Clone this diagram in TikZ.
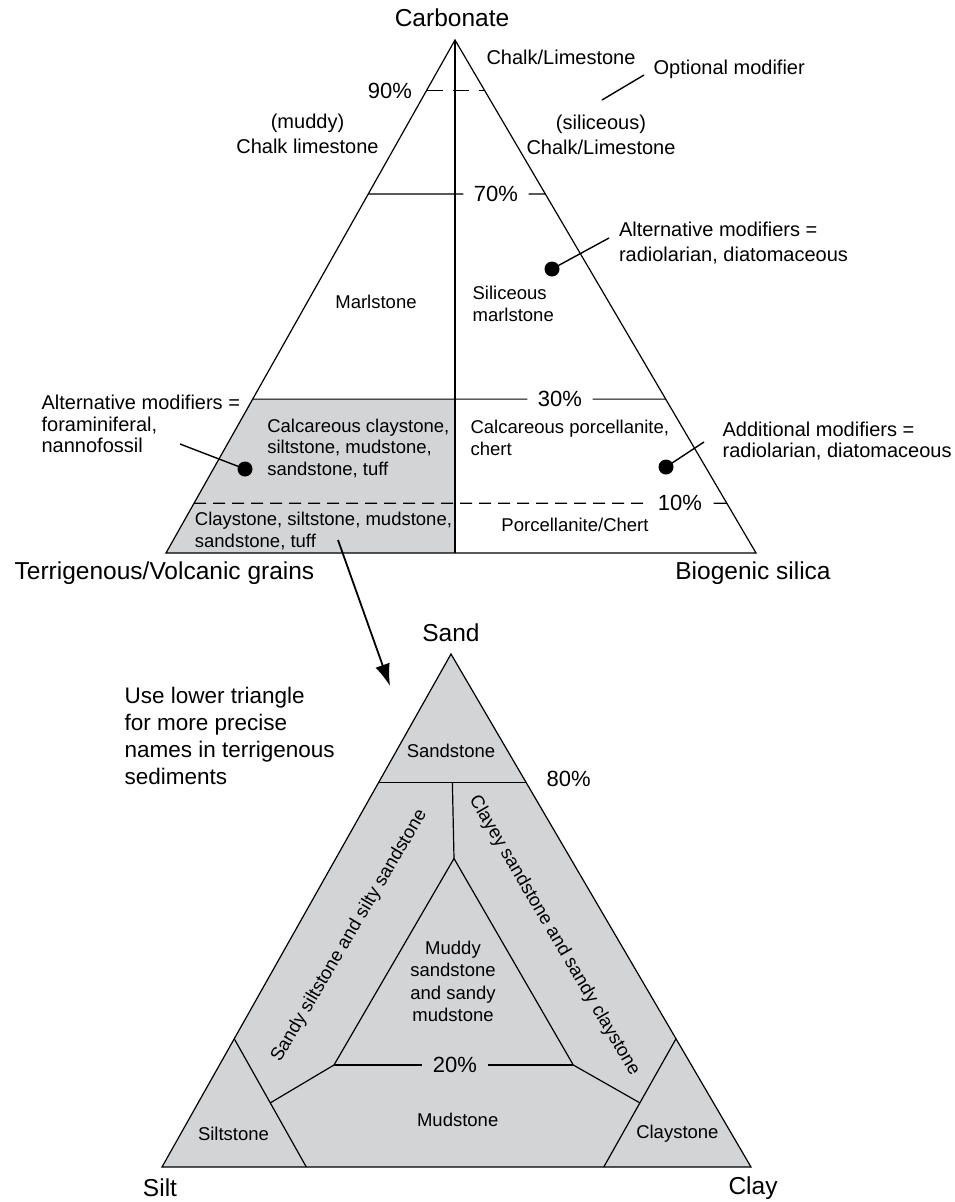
\documentclass[tikz,border=0pt]{standalone}
\usepackage{fontspec}
\setmainfont{Liberation Sans}
\usetikzlibrary{arrows.meta,calc}
\definecolor{fillgray}{RGB}{211,212,214}

\begin{document}
\begin{tikzpicture}[x=1pt,y=1pt,yscale=-1,line width=1.2pt,
  big/.style={inner sep=0pt,font=\fontsize{24.5}{29}\selectfont},
  note/.style={inner sep=0pt,align=left,font=\fontsize{20}{25}\selectfont},
  field/.style={inner sep=0pt,align=center,font=\fontsize{18.5}{21.5}\selectfont},
  pct/.style={inner xsep=10pt,inner ysep=0pt,font=\fontsize{22}{26}\selectfont},
  dashninety/.style={dash pattern=on 16pt off 10pt},
  dashten/.style={dash pattern=on 12pt off 7pt},
  blob/.style={circle,fill=black,inner sep=0pt,minimum size=15pt},
  leader/.style={line width=1.4pt}]
\useasboundingbox (0,0) rectangle (954,1202);

% upper triangle
\coordinate (C) at (455,40);
\coordinate (T) at (166,553);
\coordinate (B) at (756,553);
\coordinate (Cb) at (455,553);
\coordinate (t90) at ($(C)!0.0985!(T)$);
\coordinate (b90) at ($(C)!0.0985!(B)$);
\coordinate (t70) at ($(C)!0.3!(T)$);
\coordinate (b70) at ($(C)!0.3!(B)$);
\coordinate (t30) at ($(C)!0.7!(T)$);
\coordinate (b30) at ($(C)!0.7!(B)$);
\coordinate (m30) at ($(t30)!(C)!(b30)$);
\coordinate (t10) at ($(C)!0.903!(T)$);
\coordinate (b10) at ($(C)!0.903!(B)$);

%Shaded region
\fill[fillgray] (t30) -- (m30) -- (Cb) -- (T) -- cycle;
%Straight Lines
\draw (C) -- (T) -- (B) -- cycle;
\draw (C) -- (Cb);
\draw[dashninety] (t90) -- (b90);

% Text Node
\node[big] (carb) at (452,18) {Carbonate};
\node[note] (chalk) at (561,57) {Chalk/Limestone};
\node[note,anchor=west] (optmod) at (653,69.5) {Optional modifier};
\node[pct,inner xsep=0pt] (p90) at (390,90.5) {90\%};
\node[note,align=center] (muddy) at (307.5,133.5) {(muddy)\\Chalk limestone};
\node[note,align=center] (silic) at (601,135) {(siliceous)\\Chalk/Limestone};
\node[pct] (p70) at (496,193.9) {70\%};
\node[note,anchor=west] (altrad) at (618.4,243.5) {Alternative modifiers =\\radiolarian, diatomaceous};
\node[field] (marl) at (376,302) {Marlstone};
\node[field,align=left,anchor=west] (simarl) at (472,304) {Siliceous\\marlstone};
\node[note,anchor=west,font=\fontsize{20}{21.5}\selectfont] (altfor) at (41,424) {Alternative modifiers =\\foraminiferal,\\nannofossil};
\node[pct] (p30) at (560,399.1) {30\%};
\node[field,align=left,anchor=west] (calcclay) at (266.7,448.3) {Calcareous claystone,\\siltstone, mudstone,\\sandstone, tuff};
\node[field,align=left,anchor=west] (calcporc) at (470,437.8) {Calcareous porcellanite,\\chert};
\node[note,anchor=west,font=\fontsize{20}{21.5}\selectfont] (addrad) at (722,441) {Additional modifiers =\\radiolarian, diatomaceous};
\node[pct,inner xsep=11pt] (p10) at (680,503.2) {10\%};
\node[field,align=left,anchor=west] (clayst) at (194.3,531) {Claystone, siltstone, mudstone,\\sandstone, tuff};
\node[field] (porc) at (575,525) {Porcellanite/Chert};
\node[big] (terr) at (164.5,573) {Terrigenous/Volcanic grains};
\node[big] (biosil) at (753,573) {Biogenic silica};

%Straight Lines
\draw (t70) -- (p70.west);
\draw (p70.east) -- (b70);
\draw (t30) -- (p30.west);
\draw (p30.east) -- (b30);
\draw[dashten] (t10) -- (p10.west);
\draw (p10.east) -- (b10);

% dots and leaders
\coordinate (optA) at (602,100);
\coordinate (optB) at (644,75);
\draw[leader] (optA) -- (optB);
\node[blob] (dotrad) at (552,269) {};
\coordinate (dotradend) at (609,238);
\draw[leader] (dotrad.center) -- (dotradend);
\node[blob] (dotfor) at (245,469) {};
\coordinate (dotforend) at (180,444);
\draw[leader] (dotfor.center) -- (dotforend);
\node[blob] (dotadd) at (666,467) {};
\coordinate (dotaddend) at (704,442);
\draw[leader] (dotadd.center) -- (dotaddend);

% arrow to lower triangle
\coordinate (arrS) at (338,540);
\coordinate (arrE) at (390,686);
\draw[line width=1.8pt,-{Latex[length=22pt,width=15pt]}] (arrS) -- (arrE);

% lower triangle
\coordinate (Sa) at (451,654);
\coordinate (Si) at (162,1167);
\coordinate (Cl) at (751,1167);
\coordinate (s80l) at ($(Sa)!0.25!(Si)$);
\coordinate (s80r) at ($(Sa)!0.25!(Cl)$);
\coordinate (s80m) at ($(s80l)!0.5!(s80r)$);
\coordinate (inA) at (454,858.5);
\coordinate (inL) at (334,1065);
\coordinate (inR) at (573.3,1065);
\coordinate (si75) at ($(Sa)!0.75!(Si)$);
\coordinate (sib) at ($(Si)!0.245!(Cl)$);
\coordinate (sik) at ($(si75)!0.5!(sib)$);
\coordinate (cl75) at ($(Sa)!0.75!(Cl)$);
\coordinate (clb) at ($(Cl)!0.25!(Si)$);
\coordinate (clk) at ($(cl75)!0.5!(clb)$);

\filldraw[fill=fillgray] (Sa) -- (Si) -- (Cl) -- cycle;

% Text Node
\node[big] (sand) at (451,633) {Sand};
\node[note,anchor=west,font=\fontsize{22.5}{27.2}\selectfont] (uselow) at (124,736) {Use lower triangle\\for more precise\\names in terrigenous\\sediments};
\node[field] (sandst) at (451,751) {Sandstone};
\node[pct,inner xsep=0pt,anchor=west] (p80) at (546,778.5) {80\%};
\node[field,rotate=59.5] (sandsilt) at (349.4,936) {Sandy siltstone and silty sandstone};
\node[field,rotate=-59.7] (claysand) at (554.2,935.6) {Clayey sandstone and sandy claystone};
\node[field,font=\fontsize{18.5}{22.4}\selectfont] (muddy2) at (453,981.5) {Muddy\\sandstone\\and sandy\\mudstone};
\node[pct] (p20) at (455,1065) {20\%};
\node[field] (mudst) at (457.7,1119.6) {Mudstone};
\node[field] (siltst) at (233.5,1133.7) {Siltstone};
\node[field] (clayst2) at (677.4,1133.7) {Claystone};
\node[big] (silt) at (160,1188) {Silt};
\node[big] (clay) at (753,1188) {Clay};

%Straight Lines
\draw (s80l) -- (s80r);
\draw (s80m) -- (inA);
\draw (inL) -- (inA) -- (inR);
\draw (inL) -- (p20.west);
\draw (p20.east) -- (inR);
\draw (inL) -- (sik);
\draw (inR) -- (clk);
\draw (si75) -- (sib);
\draw (cl75) -- (clb);

\end{tikzpicture}
\end{document}
